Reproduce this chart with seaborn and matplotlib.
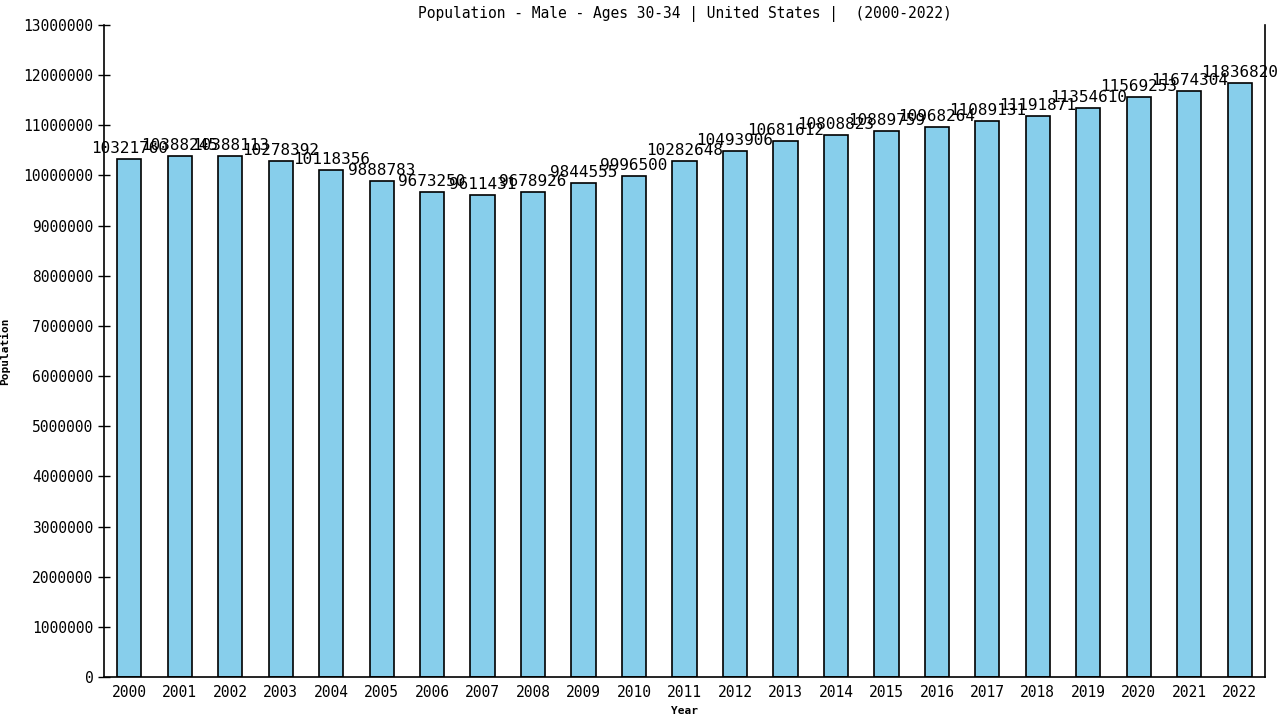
import matplotlib
matplotlib.use("Agg")
import matplotlib.pyplot as plt
import seaborn as sns
import pandas as pd

# Données
years = [2000, 2001, 2002, 2003, 2004, 2005, 2006, 2007, 2008, 2009, 2010, 2011,
         2012, 2013, 2014, 2015, 2016, 2017, 2018, 2019, 2020, 2021, 2022]
population = [10321760, 10388245, 10388113, 10278392, 10118356, 9888783, 9673250,
              9611431, 9678926, 9844555, 9996500, 10282648, 10493906, 10681612,
              10808823, 10889759, 10968264, 11089131, 11191871, 11354610, 11569253,
              11674304, 11836820]
y_ticks = list(range(0, 13000001, 1000000))

sns.set_style("white")
plt.rcParams['font.family'] = ['DejaVu Sans Mono']
plt.rcParams['text.color'] = 'black'
plt.rcParams['axes.labelcolor'] = 'black'
plt.rcParams['xtick.color'] = 'black'
plt.rcParams['ytick.color'] = 'black'

df = pd.DataFrame({'year': [str(y) for y in years], 'pop': population})

fig = plt.figure(figsize=(12.8, 7.2), dpi=100)
ax = fig.add_axes([104 / 1280, 43 / 720, 1161 / 1280, 652 / 720])

sns.barplot(data=df, x='year', y='pop', color='skyblue', width=0.48,
            edgecolor='black', linewidth=1.2, saturation=1, ax=ax)

# Étiquettes au-dessus des barres
for i, v in enumerate(population):
    ax.text(i, v + 60000, str(v), ha='center', va='bottom', fontsize=11.5,
            color='black')

ax.set_xlim(-0.5, len(years) - 0.5)
ax.set_ylim(0, 13000000)
ax.set_yticks(y_ticks)
ax.set_yticklabels([str(t) for t in y_ticks], fontsize=10.5)
ax.tick_params(axis='y', direction='inout', length=8, width=1, left=True)
ax.tick_params(axis='x', length=0, labelsize=10.5, pad=6)

for side in ['left', 'right', 'bottom']:
    ax.spines[side].set_visible(True)
    ax.spines[side].set_color('black')
    ax.spines[side].set_linewidth(1.2)
ax.spines['top'].set_visible(False)

ax.set_xlabel('Year', fontsize=8, fontweight='bold', labelpad=4)
ax.set_ylabel('Population', fontsize=8, fontweight='bold', labelpad=10)
ax.set_title('Population - Male - Ages 30-34 | United States |  (2000-2022)',
             fontsize=10.5, pad=5, color='black')

fig.savefig('out.png', dpi=100)
